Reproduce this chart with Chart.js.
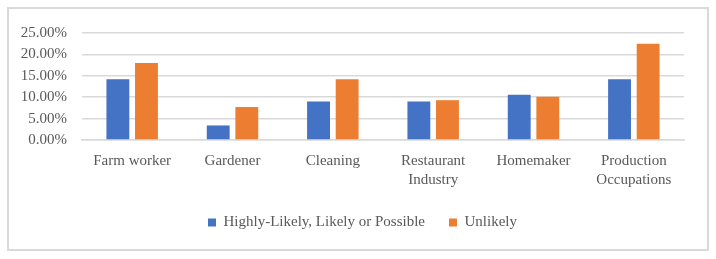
<!DOCTYPE html>
<html>
<head>
<meta charset="utf-8">
<script src="https://cdn.jsdelivr.net/npm/chart.js@4"></script>
<style>
  html, body { margin: 0; padding: 0; background: #fff; }
  #frame {
    position: absolute; left: 7px; top: 7px;
    width: 702px; height: 244px;
    box-sizing: border-box;
    border: 2px solid #d9d9d9;
  }
  #wrap { position: absolute; left: 0; top: 0; width: 698px; height: 240px; }
</style>
</head>
<body>
<div id="frame"><div id="wrap"><canvas id="occ_canvas"></canvas></div></div>
<script>
const categories = ['Farm worker', 'Gardener', 'Cleaning', ['Restaurant', 'Industry'], 'Homemaker', ['Production', 'Occupations']];
const likelyValues = [0.142, 0.034, 0.090, 0.090, 0.106, 0.142];
const unlikelyValues = [0.180, 0.077, 0.142, 0.093, 0.101, 0.225];
const seriesNames = ['Highly-Likely, Likely or Possible', 'Unlikely'];

const fontFamily = "'Palatino Linotype', 'Book Antiqua', Palatino, 'Liberation Serif', serif";
const textColor = '#595959';
const gridColor = '#d9d9d9';

const ctx = document.getElementById('occ_canvas').getContext('2d');

// legend in the original sits a bit right of the canvas centre
const legendShift = {
  id: 'legendShift',
  afterLayout(chart) {
    chart.legend.left += 16;
    chart.legend.right += 16;
  }
};

const chartData = {
  labels: categories,
  datasets: [{
    label: seriesNames[0],
    data: likelyValues,
    backgroundColor: '#4472c4',
    borderWidth: 0
  }, {
    label: seriesNames[1],
    data: unlikelyValues,
    backgroundColor: '#ed7d31',
    borderWidth: 0
  }]
};

const config = {
  type: 'bar',
  data: chartData,
  plugins: [legendShift],
  options: {
    responsive: true,
    maintainAspectRatio: false,
    animation: false,
    categoryPercentage: 0.57,
    barPercentage: 0.8,
    layout: {
      padding: { top: 24, right: 23, left: 0, bottom: 9 }
    },
    scales: {
      x: {
        afterFit: scale => { scale.height = 51; },
        grid: { display: false, drawTicks: false },
        border: { display: true, color: gridColor, width: 1.5 },
        ticks: {
          color: textColor,
          padding: 11,
          maxRotation: 0,
          autoSkip: false,
          font: { family: fontFamily, size: 15, lineHeight: 1.28 }
        }
      },
      y: {
        min: 0,
        max: 0.25,
        afterFit: scale => { scale.width = 73; },
        grid: { color: gridColor, lineWidth: 1.5, drawTicks: false },
        border: { display: false },
        ticks: {
          stepSize: 0.05,
          autoSkip: false,
          padding: 15,
          color: textColor,
          font: { family: fontFamily, size: 15 },
          callback: v => (v * 100).toFixed(2) + '%'
        }
      }
    },
    plugins: {
      legend: {
        display: true,
        position: 'bottom',
        labels: {
          color: textColor,
          boxWidth: 8,
          boxHeight: 8,
          padding: 24,
          font: { family: fontFamily, size: 15 }
        }
      },
      tooltip: { enabled: false }
    }
  }
};

const myChart = new Chart(ctx, config);
</script>
</body>
</html>
